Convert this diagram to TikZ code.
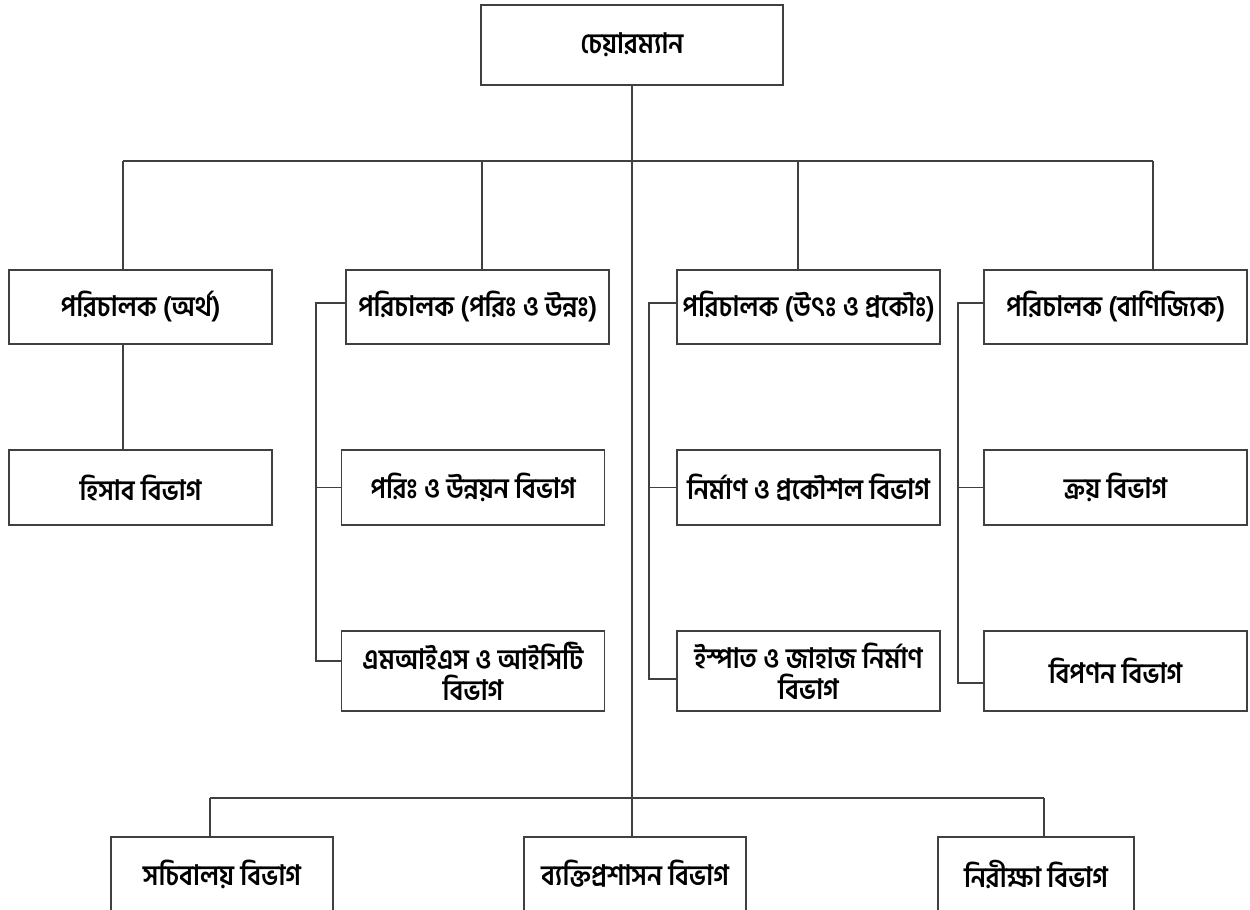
\documentclass[tikz,border=0pt]{standalone}
\usepackage{fontspec}
\newfontfamily\bangla[Script=Bengali,FakeStretch=0.92]{Hind Siliguri}
\usetikzlibrary{calc}
\tikzset{
office/.style={rectangle,draw=black!75,line width=0.8pt,
  minimum width=5.26cm,minimum height=1.48cm,inner sep=2pt,
  align=center,font=\bangla\bfseries\fontsize{16}{17.5}\selectfont},
link/.style={draw=black!75,line width=0.8pt},
}

\begin{document}
\begin{tikzpicture}[x=0.02cm,y=-0.02cm]
\useasboundingbox (0,0) rectangle (1250,909);
\clip (0,0) rectangle (1250,909);
\node[office,minimum width=6.04cm,minimum height=1.6cm] (chair) at (632,45) {চেয়ারম্যান};
% directors
\node[office] (finance) at (140.5,307) {পরিচালক (অর্থ)};
\node[office] (plan) at (477.5,307) {পরিচালক (পরিঃ ও উন্নঃ)};
\node[office] (prod) at (808.5,307) {পরিচালক (উৎঃ ও প্রকৌঃ)};
\node[office] (comm) at (1115.5,307) {পরিচালক (বাণিজ্যিক)};
% departments
\node[office,minimum height=1.5cm] (acct) at (140.5,487.5) {হিসাব বিভাগ};
\node[office,minimum height=1.5cm] (plandev) at (473,487.5) {পরিঃ ও উন্নয়ন বিভাগ};
\node[office,minimum height=1.6cm] (mis) at (473,671) {এমআইএস ও আইসিটি\\বিভাগ};
\node[office,minimum height=1.5cm] (build) at (808.5,487.5) {নির্মাণ ও প্রকৌশল বিভাগ};
\node[office,minimum height=1.6cm] (steel) at (808.5,671) {ইস্পাত ও জাহাজ নির্মাণ\\বিভাগ};
\node[office,minimum height=1.5cm] (buy) at (1115.5,487.5) {ক্রয় বিভাগ};
\node[office,minimum height=1.6cm] (market) at (1115.5,671) {বিপণন বিভাগ};
% bottom row
\node[office,minimum width=4.44cm] (secr) at (222,874) {সচিবালয় বিভাগ};
\node[office,minimum width=4.44cm] (pers) at (635,874) {ব্যক্তিপ্রশাসন বিভাগ};
\node[office,minimum width=3.92cm] (audit) at (1036,874) {নিরীক্ষা বিভাগ};

% upper bus
\coordinate (busL) at (123,161);
\coordinate (busR) at (1153,161);
\coordinate (drop2) at (482,161);
\coordinate (drop3) at (798,161);
\draw[link] (chair.south) -- (chair.south |- pers.north);
\draw[link] (busL) -- (busR);
\draw[link] (busL) -- (busL |- finance.north);
\draw[link] (drop2) -- (drop2 |- plan.north);
\draw[link] (drop3) -- (drop3 |- prod.north);
\draw[link] (busR) -- (busR |- comm.north);
\draw[link] (finance.south -| busL) -- (acct.north -| busL);

% side rails
\coordinate (rail2a) at (316,303);
\coordinate (rail2b) at (316,661);
\draw[link] (rail2a -| plan.west) -- (rail2a) -- (rail2b) -- (rail2b -| mis.west);
\draw[link] (rail2a |- plandev.west) -- (plandev.west);
\coordinate (rail3a) at (649,303);
\coordinate (rail3b) at (649,679);
\draw[link] (rail3a -| prod.west) -- (rail3a) -- (rail3b) -- (rail3b -| steel.west);
\draw[link] (rail3a |- build.west) -- (build.west);
\coordinate (rail4a) at (958,303);
\coordinate (rail4b) at (958,683);
\draw[link] (rail4a -| comm.west) -- (rail4a) -- (rail4b) -- (rail4b -| market.west);
\draw[link] (rail4a |- buy.west) -- (buy.west);

% lower bus
\coordinate (lowL) at (210,798);
\coordinate (lowR) at (1044,798);
\draw[link] (lowL) -- (lowR);
\draw[link] (lowL) -- (lowL |- secr.north);
\draw[link] (lowR) -- (lowR |- audit.north);
\end{tikzpicture}
\end{document}
